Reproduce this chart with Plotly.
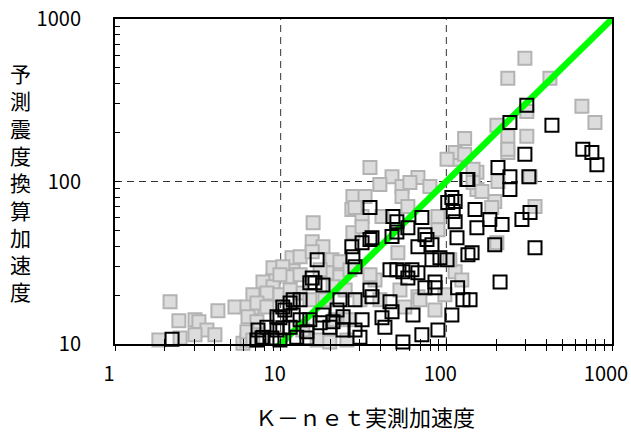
import plotly.graph_objects as go

# Observed (K-net) vs. predicted (converted from seismic intensity) acceleration
gray_x = [2.15, 2.43, 3.04, 3.21, 3.59, 4.01, 3.04, 1.84, 2.47, 4.18, 5.30, 6.71, 5.92, 6.26,
          7.50, 8.26, 8.99, 10.3, 11.9, 15.7, 15.5, 18.0, 27.3, 26.9, 27.3, 11.7, 13.1, 20.4,
          22.8, 8.99, 10.3, 11.4, 13.1, 19.0, 22.8, 7.82, 8.99, 6.80, 8.26, 9.90, 13.1, 20.7,
          6.26, 7.19, 8.26, 6.35, 7.19, 6.26, 6.80, 13.6, 16.6, 19.8, 25.1, 15.5, 34.6, 47.0,
          67.4, 39.7, 54.0, 60.3, 79.6, 113, 113, 129, 32.3, 54.0, 58.6, 89.0, 89.0, 31.0,
          31.0, 40.9, 28.1, 235, 153, 153, 205, 320, 196, 188, 343, 202, 298, 235, 422, 658,
          789, 306, 202, 235, 235, 129, 101, 145, 145, 164, 85.4, 56.2, 67.4, 113, 124, 306,
          37.1, 51.0, 17.3, 24.5, 26.2, 18.5, 21.3, 15.0, 11.4, 9.9, 26.2, 30.1, 34.6, 39.7,
          52.5, 69.3, 98.0, 105]
gray_y = [18.2, 13.9, 14.1, 13.7, 12.2, 11.4, 11.4, 10.6, 10.9, 16.0, 16.9, 16.7, 10.1, 10.6,
          19.0, 21.5, 24.8, 28.6, 32.1, 55.8, 42.6, 39.7, 80.8, 67.2, 48.4, 34.0, 34.4, 33.0,
          32.1, 29.5, 29.9, 25.9, 26.7, 27.4, 25.9, 24.1, 22.5, 20.1, 20.6, 20.1, 20.6, 22.5,
          16.9, 17.9, 16.9, 14.7, 13.7, 11.9, 10.6, 12.2, 10.6, 10.3, 10.6, 37.0, 122, 107,
          106, 95.8, 93.2, 98.6, 93.2, 137, 151, 147, 80.8, 80.8, 70.1, 60.8, 50.5, 60.8,
          52.7, 60.8, 69.1, 151, 114, 89.3, 100, 107, 75.3, 69.1, 70.1, 42.0, 574, 432, 432, 290,
          231, 190, 222, 190, 158, 184, 137, 119, 98.6, 86.8, 16.2, 16.9, 19.5, 27.8, 24.8, 270,
          24.8, 36.5, 28.6, 21.5, 28.6, 18.7, 14.1, 18.7, 21.5, 26.7, 14.1, 18.7, 26.7, 18.7,
          21.5, 18.7, 20.1, 33.0]

black_x = [2.21, 16.6, 16.1, 15.5, 18.0, 11.4, 10.6, 11.9, 9.90, 10.3, 7.71, 8.86, 12.5, 14.4,
           15.0, 17.3, 19.8, 22.8, 23.8, 28.1, 21.9, 18.0, 13.1, 7.30, 9.50, 27.3, 45.7, 50.3,
           54.7, 62.0, 67.4, 81.9, 91.5, 101, 135, 35.6, 45.7, 47.0, 74.3, 85.4, 85.4, 117,
           126, 108, 62.9, 31.0, 40.9, 42.6, 71.2, 89.0, 54.7, 30.1, 28.1, 58.6, 34.6, 47.6,
           50.3, 71.2, 58.6, 74.3, 76.4, 108, 113, 102, 110, 113, 135, 116, 35.6, 31.0, 47.0,
           67.4, 81.9, 205, 242, 242, 756, 811, 149, 153, 183, 217, 286, 320, 196, 343, 143,
           298, 211, 139, 306, 242, 434, 667, 315, 133, 7.19, 7.82, 8.26, 9.50, 10.3, 11.9,
           13.1, 15.0, 9.90, 11.4, 14.4, 26.9, 28.1, 34.6, 50.3, 20.7, 23.8, 34.6]
black_y = [10.7, 33.0, 23.8, 25.5, 23.1, 17.9, 16.2, 15.1, 14.5, 12.6, 10.9, 10.9, 11.0, 10.9,
           14.1, 13.5, 12.7, 18.7, 14.7, 12.2, 16.2, 15.1, 14.1, 12.2, 12.2, 34.4, 28.6, 28.6,
           27.8, 28.6, 27.4, 33.0, 34.0, 33.0, 35.4, 19.5, 18.2, 15.8, 22.2, 22.2, 24.1, 22.2,
           18.7, 15.1, 15.1, 14.1, 14.5, 12.7, 11.4, 12.2, 10.3, 11.0, 18.7, 25.5, 69.1, 60.8,
           56.6, 60.0, 52.0, 47.1, 43.9, 79.7, 75.3, 74.2, 65.3, 56.6, 103, 45.1, 45.1, 42.0, 45.8,
           39.7, 40.8, 122, 107, 89.3, 151, 127, 67.2, 52.0, 58.3, 54.3, 58.3, 64.4, 40.8, 39.1, 36.5,
           147, 24.1, 18.7, 295, 231, 222, 158, 107, 103, 10.6, 11.0, 12.7, 14.7, 16.9, 18.7,
           18.7, 23.8, 10.6, 12.7, 11.9, 39.7, 29.9, 43.9, 48.9, 13.7, 12.2, 21.5]

# 1:1 reference line
line_x = [1, 1000]
line_y = [1, 1000]

decades = [1, 10, 100, 1000]
tick_vals = [m * d for d in decades[:-1] for m in range(1, 10)] + [decades[-1]]
tick_text = [str(v) if v in decades else "" for v in tick_vals]

FONT = "Noto Sans CJK JP"

fig = go.Figure()
fig.add_trace(go.Scatter(
    x=gray_x, y=gray_y, mode="markers", cliponaxis=False, showlegend=False,
    marker=dict(symbol="square", size=13, color="#dcdcdc",
                line=dict(color="#b3b3b3", width=2)),
))
fig.add_trace(go.Scatter(
    x=line_x, y=line_y, mode="lines", showlegend=False,
    line=dict(color="#00ff00", width=6.5),
))
fig.add_trace(go.Scatter(
    x=black_x, y=black_y, mode="markers", cliponaxis=False, showlegend=False,
    marker=dict(symbol="square", size=13, color="rgba(0,0,0,0)",
                line=dict(color="#000000", width=2)),
))
# invisible trace carrying the secondary x axis (inside tick marks)
fig.add_trace(go.Scatter(x=[1], y=[10], xaxis="x2", mode="markers",
                         marker=dict(opacity=0), showlegend=False, hoverinfo="skip"))

# dashed reference lines at the decades
for v in [10, 100]:
    fig.add_shape(type="line", xref="x", yref="y domain", x0=v, x1=v, y0=0, y1=1,
                  line=dict(color="#333333", width=1, dash="7px,5px"), layer="below")
fig.add_shape(type="line", xref="x domain", yref="y", x0=0, x1=1, y0=100, y1=100,
              line=dict(color="#333333", width=1, dash="7px,5px"), layer="below")

axis_common = dict(
    type="log", showgrid=False, zeroline=False, automargin=False,
    showline=True, linecolor="black", linewidth=2, mirror=True,
    tickvals=tick_vals, ticktext=tick_text,
    tickcolor="black", tickwidth=1, ticklen=5,
    tickfont=dict(family=FONT, size=20, color="black"),
)

fig.update_layout(
    width=631, height=433,
    margin=dict(l=115, r=19, t=19, b=89),
    paper_bgcolor="white", plot_bgcolor="white",
    font=dict(family=FONT, color="black"),
    xaxis=dict(axis_common, range=[0, 3], ticks="outside",
               ticklabelstandoff=6, ticklabelshift=-6),
    xaxis2=dict(type="log", range=[0, 3], overlaying="x", anchor="y", side="bottom",
                showgrid=False, zeroline=False, showline=False, automargin=False,
                tickvals=tick_vals, ticks="inside", ticklen=5, tickwidth=1,
                tickcolor="black", showticklabels=False),
    yaxis=dict(axis_common, range=[1, 3], ticks="inside", ticklabelstandoff=28),
    annotations=[
        dict(text="Ｋ－ｎｅｔ実測加速度", xref="paper", yref="paper", x=0.503, y=0,
             xanchor="center", yanchor="middle", yshift=-72, showarrow=False,
             font=dict(family=FONT, size=22, color="black")),
        dict(text="<br>".join("予測震度換算加速度"), xref="paper", yref="paper",
             x=0, y=0.5, xshift=-95, xanchor="center", yanchor="middle",
             showarrow=False, font=dict(family=FONT, size=21, color="black")),
    ],
)

fig.write_html("out.html")
